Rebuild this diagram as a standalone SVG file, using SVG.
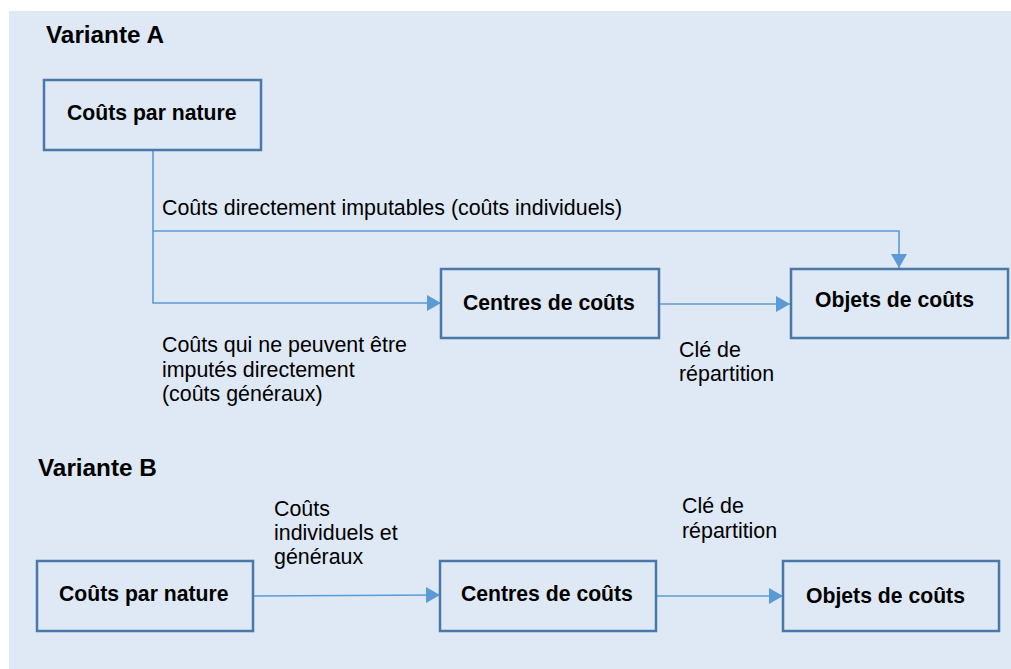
<svg xmlns="http://www.w3.org/2000/svg" width="1011" height="669" viewBox="0 0 1011 669">
<style>
.box{fill:none;stroke:#4A78A8;stroke-width:2.5}
.con{fill:none;stroke:#5B9BD5;stroke-width:1.6}
.b{font-family:"Liberation Sans",Arial,sans-serif;font-weight:bold;font-size:21.2px;fill:#000}
.h{font-family:"Liberation Sans",Arial,sans-serif;font-weight:bold;font-size:24.3px;fill:#000}
.t{font-family:"Liberation Sans",Arial,sans-serif;font-size:21.4px;fill:#000}
</style>
<defs>
<marker id="arr" viewBox="0 0 14 16" refX="14" refY="8" markerWidth="14" markerHeight="16" markerUnits="userSpaceOnUse" orient="auto">
<path d="M0,0 L14,8 L0,16 Z" fill="#5B9BD5"/>
</marker>
</defs>
<rect x="9" y="11" width="1002" height="658" fill="#DEE9F5"/>
<text class="h" x="46" y="43">Variante A</text>
<text class="h" x="38" y="476">Variante B</text>
<g id="connectors">
<path class="con" d="M153,150 V303 H441" marker-end="url(#arr)"/>
<path class="con" d="M153,231 H899 V268" marker-end="url(#arr)"/>
<path class="con" d="M660,304 H790" marker-end="url(#arr)"/>
<path class="con" d="M253,596 L440,595" marker-end="url(#arr)"/>
<path class="con" d="M656,596 H783" marker-end="url(#arr)"/>
</g>
<g id="labels">
<text class="t" x="162" y="215">Coûts directement imputables (coûts individuels)</text>
<text class="t" x="162" y="352">Coûts qui ne peuvent être</text>
<text class="t" x="162" y="377">imputés directement</text>
<text class="t" x="162" y="401">(coûts généraux)</text>
<text class="t" x="679" y="357">Clé de</text>
<text class="t" x="679" y="381">répartition</text>
<text class="t" x="274" y="516">Coûts</text>
<text class="t" x="274" y="540">individuels et</text>
<text class="t" x="274" y="564">généraux</text>
<text class="t" x="682" y="513">Clé de</text>
<text class="t" x="682" y="538">répartition</text>
</g>
<g id="a-nature">
<rect class="box" x="44" y="80" width="217" height="70"/>
<text class="b" x="67" y="120">Coûts par nature</text>
</g>
<g id="a-centres">
<rect class="box" x="441" y="269" width="218" height="69"/>
<text class="b" x="463" y="310">Centres de coûts</text>
</g>
<g id="a-objets">
<rect class="box" x="791" y="269" width="217" height="69"/>
<text class="b" x="815" y="307">Objets de coûts</text>
</g>
<g id="b-nature">
<rect class="box" x="37" y="561" width="216" height="70"/>
<text class="b" x="59" y="601">Coûts par nature</text>
</g>
<g id="b-centres">
<rect class="box" x="440" y="561" width="216" height="70"/>
<text class="b" x="461" y="601">Centres de coûts</text>
</g>
<g id="b-objets">
<rect class="box" x="783" y="561" width="216" height="70"/>
<text class="b" x="806" y="603">Objets de coûts</text>
</g>
</svg>
